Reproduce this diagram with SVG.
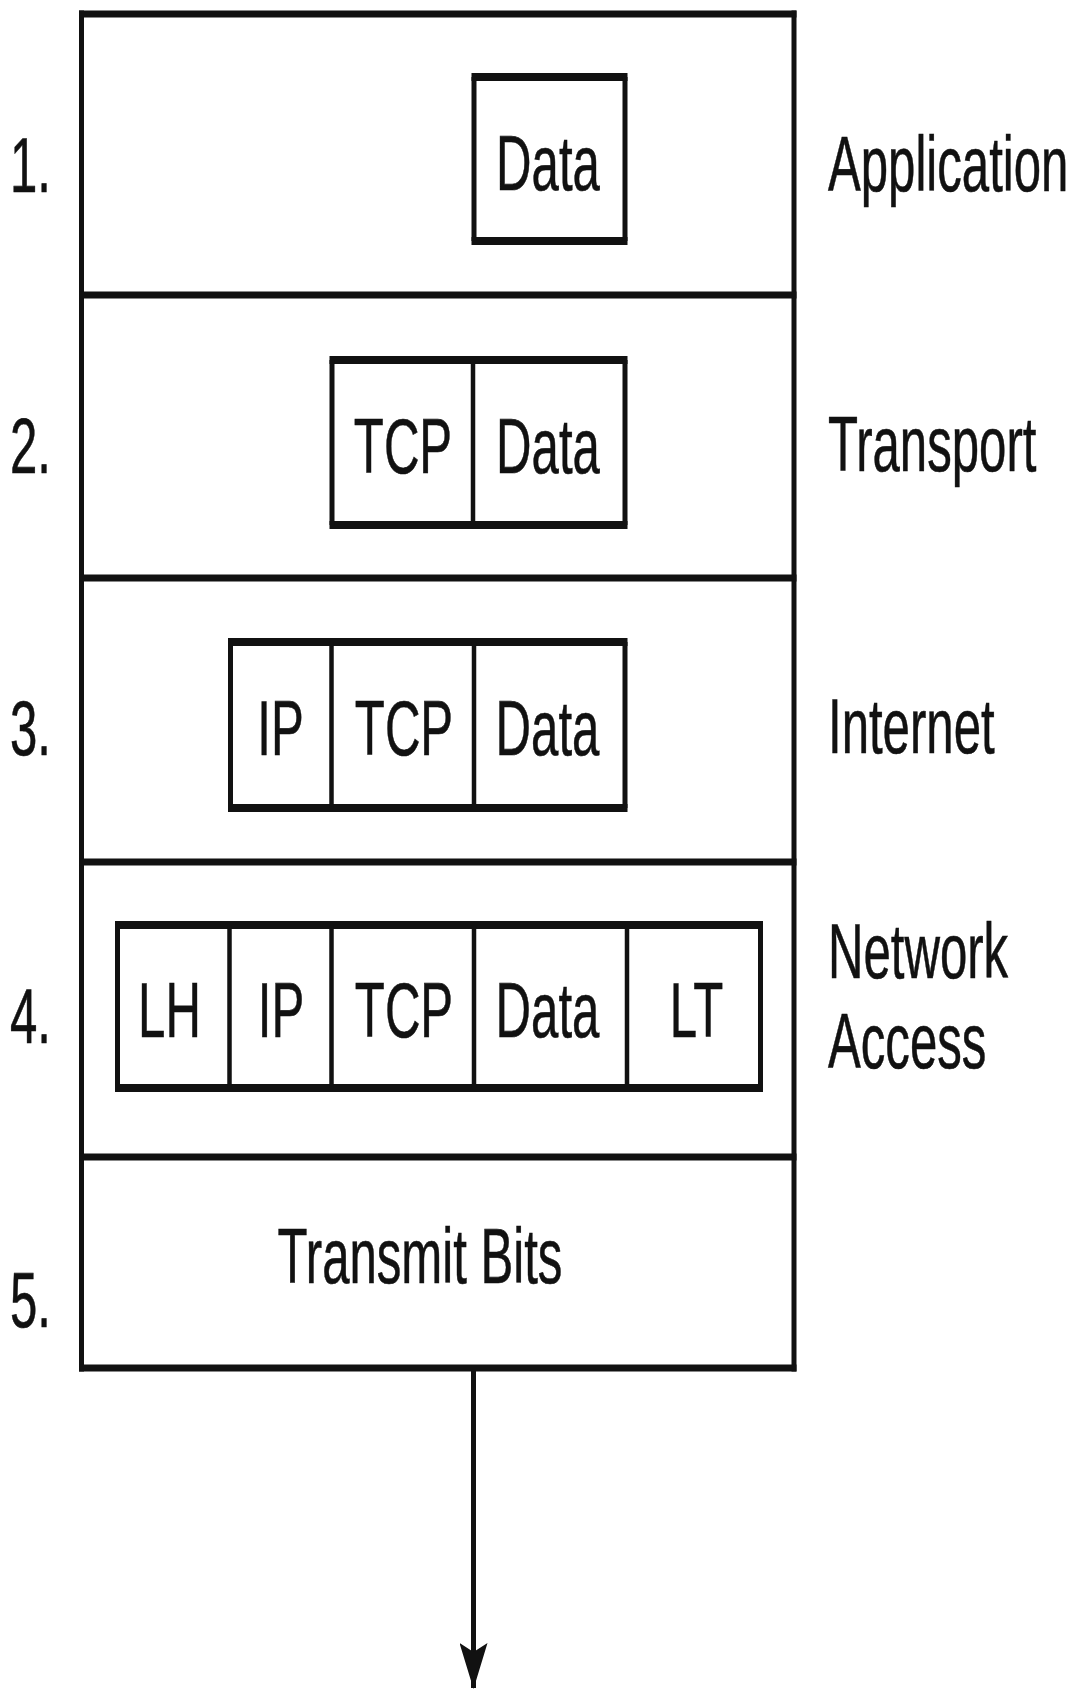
<svg xmlns="http://www.w3.org/2000/svg" width="1076" height="1690" viewBox="0 0 1076 1690">
  <defs>
    <style>
      .frame-h { stroke: #111; stroke-width: 7; fill: none; }
      .frame-v { stroke: #111; stroke-width: 5; fill: none; }
      .pkt-h { stroke: #111; stroke-width: 8; fill: none; }
      .pkt-v { stroke: #111; stroke-width: 5; fill: none; }
      .pkt-div { stroke: #111; stroke-width: 4.5; fill: none; }
      .lbl { font-family: "Liberation Sans", Arial, sans-serif; font-size: 78px; fill: #111; stroke: #111; stroke-width: 0.6; }
      .mid { text-anchor: middle; }
      .wire { stroke: #111; stroke-width: 5; fill: none; }
    </style>
    <!-- barbed head, drawn pointing along +x so orient="auto" turns it down the wire -->
    <marker id="arrowhead" viewBox="0 0 46 28" refX="45" refY="14" markerWidth="46" markerHeight="28" markerUnits="userSpaceOnUse" orient="auto">
      <path d="M46 14 L0 0 L9 14 L0 28 Z" fill="#111"/>
    </marker>
  </defs>
  <rect width="1076" height="1690" fill="#ffffff"/>

  <!-- outer stack frame -->
  <g id="stack-frame">
    <line class="frame-v" x1="81.5" y1="10.5" x2="81.5" y2="1371.5"/>
    <line class="frame-v" x1="794" y1="10.5" x2="794" y2="1371.5"/>
    <line class="frame-h" x1="79" y1="14" x2="796.5" y2="14"/>
    <line class="frame-h" x1="79" y1="295" x2="796.5" y2="295"/>
    <line class="frame-h" x1="79" y1="578" x2="796.5" y2="578"/>
    <line class="frame-h" x1="79" y1="862" x2="796.5" y2="862"/>
    <line class="frame-h" x1="79" y1="1157" x2="796.5" y2="1157"/>
    <line class="frame-h" x1="79" y1="1368" x2="796.5" y2="1368"/>
  </g>

  <!-- 1. Application -->
  <g id="layer-application">
    <text class="lbl" transform="translate(10 192) scale(0.63 1)">1.</text>
    <g id="app-packet">
      <line class="pkt-h" x1="471.5" y1="77" x2="627.5" y2="77"/>
      <line class="pkt-h" x1="471.5" y1="241" x2="627.5" y2="241"/>
      <line class="pkt-v" x1="474" y1="77" x2="474" y2="241"/>
      <line class="pkt-v" x1="625" y1="77" x2="625" y2="241"/>
      <text class="lbl mid" transform="translate(548 190) scale(0.63 1)">Data</text>
    </g>
    <text class="lbl" transform="translate(828 191) scale(0.63 1)">Application</text>
  </g>

  <!-- 2. Transport -->
  <g id="layer-transport">
    <text class="lbl" transform="translate(10 473) scale(0.63 1)">2.</text>
    <g id="transport-packet">
      <line class="pkt-h" x1="329.5" y1="360" x2="627.5" y2="360"/>
      <line class="pkt-h" x1="329.5" y1="525" x2="627.5" y2="525"/>
      <line class="pkt-v" x1="332" y1="360" x2="332" y2="525"/>
      <line class="pkt-v" x1="625" y1="360" x2="625" y2="525"/>
      <line class="pkt-div" x1="473" y1="360" x2="473" y2="525"/>
      <text class="lbl mid" transform="translate(403 473) scale(0.63 1)">TCP</text>
      <text class="lbl mid" transform="translate(548 473) scale(0.63 1)">Data</text>
    </g>
    <text class="lbl" transform="translate(828 471) scale(0.63 1)">Transport</text>
  </g>

  <!-- 3. Internet -->
  <g id="layer-internet">
    <text class="lbl" transform="translate(10 755) scale(0.63 1)">3.</text>
    <g id="internet-packet">
      <line class="pkt-h" x1="228" y1="642" x2="627.5" y2="642"/>
      <line class="pkt-h" x1="228" y1="808" x2="627.5" y2="808"/>
      <line class="pkt-v" x1="230.5" y1="642" x2="230.5" y2="808"/>
      <line class="pkt-v" x1="625" y1="642" x2="625" y2="808"/>
      <line class="pkt-div" x1="331.5" y1="642" x2="331.5" y2="808"/>
      <line class="pkt-div" x1="474" y1="642" x2="474" y2="808"/>
      <text class="lbl mid" transform="translate(280.5 755) scale(0.63 1)">IP</text>
      <text class="lbl mid" transform="translate(404 755) scale(0.63 1)">TCP</text>
      <text class="lbl mid" transform="translate(547.5 755) scale(0.63 1)">Data</text>
    </g>
    <text class="lbl" transform="translate(828 753) scale(0.63 1)">Internet</text>
  </g>

  <!-- 4. Network Access -->
  <g id="layer-network-access">
    <text class="lbl" transform="translate(10 1043) scale(0.63 1)">4.</text>
    <g id="frame-packet">
      <line class="pkt-h" x1="115" y1="925" x2="763" y2="925"/>
      <line class="pkt-h" x1="115" y1="1088" x2="763" y2="1088"/>
      <line class="pkt-v" x1="117.5" y1="925" x2="117.5" y2="1088"/>
      <line class="pkt-v" x1="760.5" y1="925" x2="760.5" y2="1088"/>
      <line class="pkt-div" x1="229.5" y1="925" x2="229.5" y2="1088"/>
      <line class="pkt-div" x1="331.5" y1="925" x2="331.5" y2="1088"/>
      <line class="pkt-div" x1="474" y1="925" x2="474" y2="1088"/>
      <line class="pkt-div" x1="627" y1="925" x2="627" y2="1088"/>
      <text class="lbl mid" transform="translate(169.5 1037) scale(0.63 1)">LH</text>
      <text class="lbl mid" transform="translate(281 1037) scale(0.63 1)">IP</text>
      <text class="lbl mid" transform="translate(404 1037) scale(0.63 1)">TCP</text>
      <text class="lbl mid" transform="translate(547.5 1037) scale(0.63 1)">Data</text>
      <text class="lbl mid" transform="translate(696.5 1037) scale(0.63 1)">LT</text>
    </g>
    <text class="lbl" transform="translate(828 978) scale(0.63 1)">Network</text>
    <text class="lbl" transform="translate(828 1068) scale(0.63 1)">Access</text>
  </g>

  <!-- 5. Physical: transmit bits -->
  <g id="layer-transmit">
    <text class="lbl" transform="translate(10 1327) scale(0.63 1)">5.</text>
    <text class="lbl mid" transform="translate(420 1283) scale(0.63 1)">Transmit Bits</text>
  </g>

  <!-- outgoing bit stream -->
  <g id="connectors">
    <line class="wire" x1="473.5" y1="1368" x2="473.5" y2="1688" marker-end="url(#arrowhead)"/>
  </g>
</svg>
